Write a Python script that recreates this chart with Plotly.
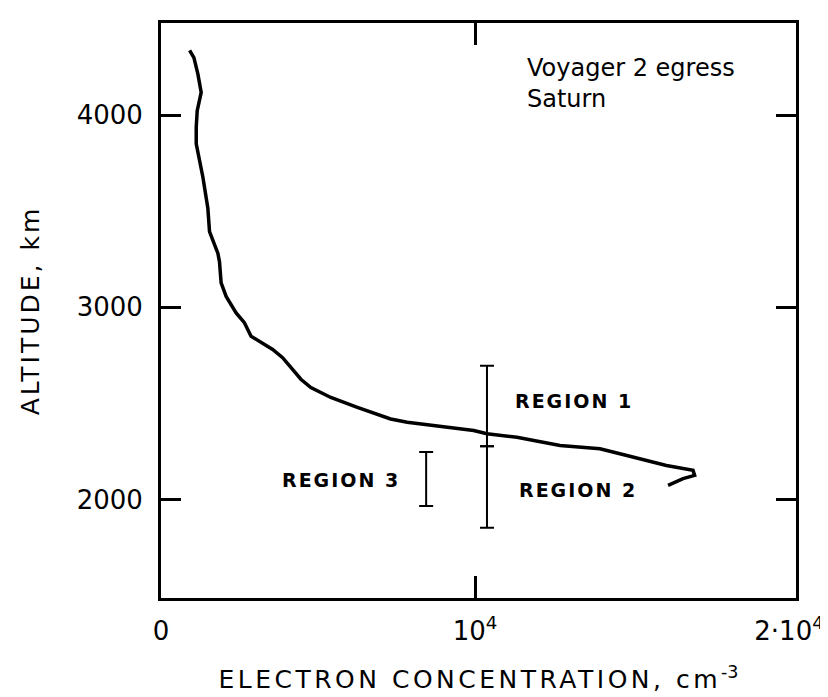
import plotly.graph_objects as go

# Electron concentration profile (cm^-3) vs altitude (km)
density = [911, 1048, 1175, 1280, 1153, 1122, 1122, 1228, 1333, 1492, 1545, 1810, 1862,
           1915, 2074, 2392, 2656, 2868, 3185, 3556, 3873, 4138, 4455, 4772, 5407, 6254,
           7312, 7841, 8899, 9958, 10381, 11333, 12708, 13978, 14613, 15248, 16095,
           16943, 16994, 16625, 16148]
altitude = [4337, 4299, 4213, 4118, 4023, 3937, 3851, 3765, 3678, 3515, 3394, 3282, 3238,
            3127, 3057, 2971, 2920, 2850, 2816, 2781, 2738, 2687, 2626, 2583, 2531, 2480,
            2419, 2402, 2381, 2359, 2342, 2324, 2281, 2264, 2238, 2212, 2177,
            2152, 2126, 2109, 2074]

# Region altitude ranges (km)
region_names = ["REGION 1", "REGION 2", "REGION 3"]
region_x = [10381, 10381, 8444]
region_lo = [2278, 1853, 1967]
region_hi = [2696, 2278, 2247]
region_label_x = [13143, 13270, 5730]
region_label_y = [2515, 2049, 2101]

# Legend-style caption lines
caption_lines = ["Voyager 2 egress", "Saturn"]
caption_x = 11587
caption_y = [4245, 4082]

x_tickvals = [0, 10000, 20000]
x_ticktext = ["0", "10<sup>4</sup>", "2·10<sup>4</sup>"]
y_tickvals = [2000, 3000, 4000]
y_ticktext = ["2000", "3000", "4000"]

FONT = "DejaVu Sans"


def spaced(text, spacing, size):
    return f'<span style="letter-spacing:{spacing}px;font-size:{size}px">{text}</span>'


fig = go.Figure()
fig.add_trace(go.Scatter(x=density, y=altitude, mode="lines",
                         line=dict(color="black", width=3.5), showlegend=False,
                         hoverinfo="skip"))

mid = [(lo + hi) / 2 for lo, hi in zip(region_lo, region_hi)]
half = [(hi - lo) / 2 for lo, hi in zip(region_lo, region_hi)]
fig.add_trace(go.Scatter(x=region_x, y=mid, mode="markers",
                         marker=dict(size=1, opacity=0),
                         error_y=dict(type="data", array=half, symmetric=True,
                                      color="black", thickness=2, width=7),
                         showlegend=False, hoverinfo="skip"))

# invisible trace on the tick-only overlay axis
fig.add_trace(go.Scatter(x=[None], y=[None], xaxis="x2", showlegend=False))

for name, lx, ly in zip(region_names, region_label_x, region_label_y):
    fig.add_annotation(x=lx, y=ly, text=spaced(name, 2, 19),
                       showarrow=False, xanchor="center", yanchor="middle",
                       font=dict(family=FONT, size=19, color="black", weight="bold"))

for line, cy in zip(caption_lines, caption_y):
    fig.add_annotation(x=caption_x, y=cy, text=line,
                       showarrow=False, xanchor="left", yanchor="middle", align="left",
                       font=dict(family=FONT, size=24, color="black"))

fig.update_layout(
    width=828, height=697,
    margin=dict(l=153, r=38, t=12, b=107),
    paper_bgcolor="white", plot_bgcolor="white",
    font=dict(family=FONT, color="black"),
    xaxis=dict(range=[0, 20222], tickvals=x_tickvals, ticktext=x_ticktext,
               ticks="", showgrid=False, zeroline=False,
               showline=True, linecolor="black", linewidth=3, mirror=True,
               tickfont=dict(family=FONT, size=26, color="black"),
               ticklabelstandoff=8,
               title=dict(text=spaced("ELECTRON CONCENTRATION, cm", 3.5, 25) + "<sup>-3</sup>",
                          font=dict(family=FONT, size=25, color="black"), standoff=26)),
    xaxis2=dict(overlaying="x", matches="x", side="bottom", tickvals=[10000],
                ticks="inside", ticklen=22, tickwidth=2.5, tickcolor="black",
                showticklabels=False, showgrid=False, zeroline=False,
                showline=True, linecolor="black", linewidth=3, mirror="ticks"),
    yaxis=dict(range=[1488, 4479], tickvals=y_tickvals, ticktext=y_ticktext,
               ticks="inside", ticklen=20, tickwidth=2.5, tickcolor="black",
               showgrid=False, zeroline=False,
               showline=True, linecolor="black", linewidth=3, mirror="ticks",
               tickfont=dict(family=FONT, size=26, color="black"),
               ticklabelstandoff=10,
               title=dict(text=spaced("ALTITUDE, km", 3, 25),
                          font=dict(family=FONT, size=25, color="black"), standoff=30)),
)

fig.write_html("out.html")
